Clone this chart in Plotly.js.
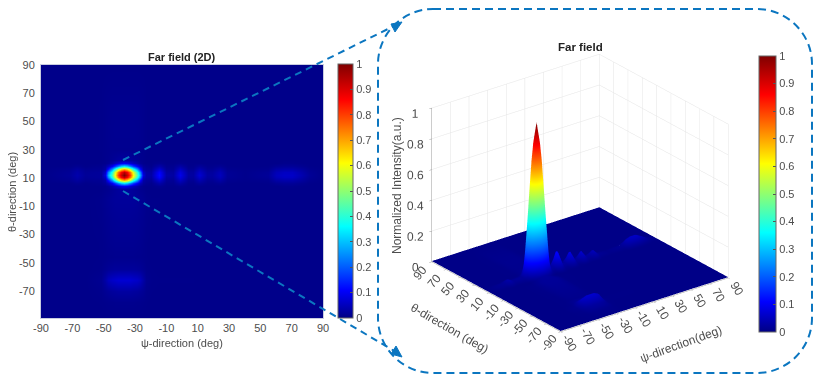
<!DOCTYPE html>
<html>
<head>
<meta charset="utf-8">
<script src="https://cdn.plot.ly/plotly-3.0.1.min.js"></script>
<style>html,body{margin:0;padding:0;background:#fff}#chart{width:818px;height:381px}</style>
</head>
<body>
<div id="chart"></div>
<script>
// Far field intensity (non uniform grid, dense around the main lobe)
const psiDeg = [-90,-72,-67,-62,-52,-49,-47,-45,-43,-41,-39,-37,-35,-33,-31,-29,-27,-25,-23,-20,-15,-10,-6,-1,4,7,11,16,19,24,29,40,55,60,65,70,76,82,90];
const thetaDeg = [-90,-78,-70,-62,-54,-46,-35,-20,-5,2.5,4.5,6.5,8.5,10.5,12.5,14.5,16.5,18.5,20.5,22.5,30,45,60,90];
const intensity = [
  [.005,.005,.005,.005,.005,.005,.005,.005,.005,.005,.005,.005,.005,.005,.005,.005,.005,.005,.005,.005,.005,.005,.005,.005,.005,.005,.005,.005,.005,.005,.005,.005,.005,.005,.005,.005,.005,.005,.005],
  [.005,.005,.005,.005,.006,.007,.008,.008,.009,.009,.009,.009,.009,.009,.009,.008,.008,.007,.006,.005,.005,.005,.005,.005,.005,.005,.005,.005,.005,.005,.005,.005,.005,.005,.005,.005,.005,.005,.005],
  [.005,.005,.005,.005,.008,.014,.018,.022,.024,.026,.026,.026,.026,.026,.024,.022,.018,.014,.008,.006,.005,.005,.005,.005,.005,.005,.005,.005,.005,.005,.005,.005,.005,.005,.005,.005,.005,.005,.005],
  [.005,.005,.005,.005,.012,.03,.05,.06,.065,.07,.07,.07,.07,.07,.065,.06,.05,.03,.012,.007,.006,.006,.006,.006,.006,.006,.005,.005,.005,.005,.005,.005,.005,.005,.005,.005,.005,.005,.005],
  [.005,.005,.005,.005,.007,.012,.016,.018,.02,.02,.02,.02,.02,.02,.02,.018,.016,.012,.007,.006,.005,.005,.005,.005,.005,.005,.005,.005,.005,.005,.005,.005,.005,.005,.005,.005,.005,.005,.005],
  [.005,.005,.005,.005,.006,.007,.008,.008,.009,.009,.009,.009,.009,.009,.009,.008,.008,.007,.006,.005,.005,.005,.005,.005,.005,.005,.005,.005,.005,.005,.005,.005,.005,.005,.005,.005,.005,.005,.005],
  [.005,.005,.005,.005,.006,.008,.01,.011,.012,.012,.012,.012,.012,.012,.012,.011,.01,.008,.006,.005,.005,.005,.005,.005,.005,.005,.005,.005,.005,.005,.005,.005,.005,.005,.005,.005,.005,.005,.005],
  [.005,.005,.005,.005,.007,.01,.012,.014,.015,.016,.016,.016,.016,.016,.015,.014,.012,.01,.007,.006,.005,.005,.005,.005,.005,.005,.005,.005,.005,.005,.005,.005,.005,.005,.005,.005,.005,.005,.005],
  [.005,.005,.005,.005,.008,.012,.015,.018,.02,.02,.02,.02,.02,.02,.02,.018,.015,.012,.008,.006,.006,.005,.005,.005,.005,.005,.005,.005,.005,.005,.005,.005,.005,.005,.005,.005,.005,.005,.005],
  [.005,.005,.005,.005,.005,.008,.01,.014,.018,.022,.024,.025,.024,.022,.018,.014,.01,.008,.005,.005,.005,.005,.005,.005,.005,.005,.005,.005,.005,.005,.005,.005,.005,.005,.005,.005,.005,.005,.005],
  [.005,.005,.005,.005,.006,.008,.015,.03,.05,.07,.09,.10,.09,.07,.05,.03,.015,.008,.006,.006,.012,.006,.006,.01,.006,.006,.006,.005,.005,.005,.005,.005,.005,.005,.008,.008,.006,.005,.005],
  [.005,.006,.012,.006,.01,.02,.05,.10,.17,.24,.31,.34,.31,.24,.17,.10,.05,.02,.012,.008,.035,.01,.01,.03,.008,.008,.02,.008,.008,.014,.006,.005,.006,.014,.018,.018,.012,.006,.005],
  [.005,.012,.024,.012,.014,.03,.12,.26,.40,.54,.64,.70,.64,.54,.40,.26,.12,.03,.018,.016,.07,.016,.014,.055,.014,.014,.04,.014,.014,.03,.01,.007,.01,.03,.035,.035,.024,.01,.005],
  [.005,.016,.032,.016,.02,.06,.24,.40,.58,.75,.87,.94,.87,.75,.58,.40,.24,.06,.03,.025,.11,.025,.022,.08,.022,.022,.06,.022,.022,.045,.015,.008,.016,.045,.055,.055,.035,.014,.005],
  [.005,.018,.036,.018,.02,.08,.28,.44,.62,.80,.92,1,.92,.80,.62,.44,.28,.08,.03,.03,.12,.03,.026,.09,.025,.025,.07,.025,.025,.05,.016,.008,.018,.05,.06,.06,.04,.016,.005],
  [.005,.016,.032,.016,.02,.06,.24,.40,.58,.75,.87,.94,.87,.75,.58,.40,.24,.06,.03,.025,.11,.025,.022,.08,.022,.022,.06,.022,.022,.045,.015,.008,.016,.045,.055,.055,.035,.014,.005],
  [.005,.012,.024,.012,.014,.03,.12,.26,.40,.54,.64,.70,.64,.54,.40,.26,.12,.03,.018,.016,.07,.016,.014,.055,.014,.014,.04,.014,.014,.03,.01,.007,.01,.03,.035,.035,.024,.01,.005],
  [.005,.006,.012,.006,.01,.02,.05,.10,.17,.24,.31,.34,.31,.24,.17,.10,.05,.02,.012,.008,.035,.01,.01,.03,.008,.008,.02,.008,.008,.014,.006,.005,.006,.014,.018,.018,.012,.006,.005],
  [.005,.005,.005,.005,.006,.008,.015,.03,.05,.07,.09,.10,.09,.07,.05,.03,.015,.008,.006,.006,.012,.006,.006,.01,.006,.006,.006,.005,.005,.005,.005,.005,.005,.005,.008,.008,.006,.005,.005],
  [.005,.005,.005,.005,.005,.008,.01,.014,.018,.022,.024,.025,.024,.022,.018,.014,.01,.008,.005,.005,.005,.005,.005,.005,.005,.005,.005,.005,.005,.005,.005,.005,.005,.005,.005,.005,.005,.005,.005],
  [.005,.005,.005,.005,.006,.008,.009,.01,.01,.01,.01,.01,.01,.01,.01,.01,.009,.008,.006,.005,.005,.005,.005,.005,.005,.005,.005,.005,.005,.005,.005,.005,.005,.005,.005,.005,.005,.005,.005],
  [.005,.005,.005,.005,.006,.008,.01,.011,.012,.012,.012,.012,.012,.012,.012,.011,.01,.008,.006,.005,.005,.005,.005,.005,.005,.005,.005,.005,.005,.005,.005,.005,.005,.005,.005,.005,.005,.005,.005],
  [.005,.005,.005,.005,.006,.008,.009,.01,.01,.01,.01,.01,.01,.01,.01,.01,.009,.008,.006,.005,.005,.005,.005,.005,.005,.005,.005,.005,.005,.005,.005,.005,.005,.005,.005,.005,.005,.005,.005],
  [.005,.005,.005,.005,.005,.005,.005,.005,.005,.005,.005,.005,.005,.005,.005,.005,.005,.005,.005,.005,.005,.005,.005,.005,.005,.005,.005,.005,.005,.005,.005,.005,.005,.005,.005,.005,.005,.005,.005]
];
const angleTicks = [-90,-70,-50,-30,-10,10,30,50,70,90];
const zTicks = [0,0.2,0.4,0.6,0.8,1];
const barTicks = [0,0.1,0.2,0.3,0.4,0.5,0.6,0.7,0.8,0.9,1];

const W = 818, H = 381;
const fx = x => x / W;
const fy = y => 1 - y / H;

// MATLAB jet
const jet = [
  [0, '#000084'], [0.11, '#0000ff'], [0.36, '#00ffff'],
  [0.61, '#ffff00'], [0.86, '#ff0000'], [1, '#800000']
];
const textCol = '#4d4d4d';
const calloutCol = '#0b76c0';
const baseFont = { family: '"Liberation Sans", Arial, sans-serif', size: 11, color: textCol };

function barOpts(x, top, bottom, width) {
  return {
    x: fx(x), xanchor: 'left', xpad: 0,
    y: fy(bottom), yanchor: 'bottom', ypad: 0,
    len: (bottom - top) / H, lenmode: 'fraction',
    thickness: width, thicknessmode: 'pixels',
    tickmode: 'array', tickvals: barTicks, ticktext: barTicks.map(String),
    ticks: 'inside', ticklen: 3, tickcolor: '#555',
    outlinecolor: '#666', outlinewidth: 1,
    tickfont: { family: baseFont.family, size: 11, color: textCol }
  };
}

const heat = {
  type: 'heatmap', x: psiDeg, y: thetaDeg, z: intensity,
  colorscale: jet, zmin: 0, zmax: 1, zsmooth: 'best', hoverinfo: 'skip',
  colorbar: barOpts(338, 64, 318, 15)
};

const surf = {
  type: 'surface', x: psiDeg, y: thetaDeg, z: intensity,
  colorscale: jet, cmin: 0, cmax: 1, hoverinfo: 'skip',
  lighting: { ambient: 1, diffuse: 0, specular: 0, roughness: 1, fresnel: 0 },
  contours: { x: { highlight: false }, y: { highlight: false }, z: { highlight: false } },
  colorbar: barOpts(759, 56, 332, 17)
};

function sceneAxis(range, vals, showLabels) {
  return {
    range: range, tickmode: 'array', tickvals: vals, ticktext: vals.map(String), tickangle: 0,
    showticklabels: showLabels, tickfont: { family: baseFont.family, size: 12, color: textCol },
    title: { text: '' }, gridcolor: '#e4e4e4', gridwidth: 1,
    showbackground: false, showspikes: false, zeroline: false,
    showline: true, linecolor: '#999', linewidth: 1, ticks: 'outside', ticklen: 3, tickcolor: '#999'
  };
}

// native 3D tick labels cannot be slanted, so they go in as scene annotations
function sceneTick(x, y, text, angle, dx, dy) {
  return {
    x: x, y: y, z: 0, text: text, textangle: angle, showarrow: false,
    xshift: dx, yshift: dy, font: { family: baseFont.family, size: 12, color: textCol }
  };
}
const psiTickLabels = angleTicks.map(v => sceneTick(v, -90, String(v), 60, 9, -11));
const thetaTickLabels = angleTicks.map(v => sceneTick(-90, v, String(v), -50, -12, -11));

function label(text, x, y, angle, bold, size) {
  return {
    xref: 'paper', yref: 'paper', x: fx(x), y: fy(y), xanchor: 'center', yanchor: 'middle',
    text: bold ? '<b>' + text + '</b>' : text, textangle: angle || 0, showarrow: false,
    font: { family: baseFont.family, size: size || 12, color: bold ? '#222' : textCol }
  };
}

function seg(x0, y0, x1, y1) {
  return {
    type: 'line', xref: 'paper', yref: 'paper',
    x0: fx(x0), y0: fy(y0), x1: fx(x1), y1: fy(y1),
    line: { color: calloutCol, width: 2, dash: '7px,5px' }
  };
}

function head(pts) {
  const d = 'M' + pts.map(p => fx(p[0]) + ',' + fy(p[1])).join(' L') + ' Z';
  return { type: 'path', xref: 'paper', yref: 'paper', path: d, fillcolor: calloutCol, line: { color: calloutCol, width: 1 } };
}

// rounded dashed frame around the 3D view
function frame(l, t, r, b, c) {
  const k = c * 0.45;
  const P = (x, y) => fx(x) + ',' + fy(y);
  const d = 'M' + P(l + c, t) + ' L' + P(r - c, t) +
    ' C' + P(r - k, t) + ' ' + P(r, t + k) + ' ' + P(r, t + c) +
    ' L' + P(r, b - c) +
    ' C' + P(r, b - k) + ' ' + P(r - k, b) + ' ' + P(r - c, b) +
    ' L' + P(l + c, b) +
    ' C' + P(l + k, b) + ' ' + P(l, b - k) + ' ' + P(l, b - c) +
    ' L' + P(l, t + c) +
    ' C' + P(l, t + k) + ' ' + P(l + k, t) + ' ' + P(l + c, t) + ' Z';
  return { type: 'path', xref: 'paper', yref: 'paper', path: d, line: { color: calloutCol, width: 2, dash: '8px,5px' } };
}

const eyeR = 1.6;
const layout = {
  width: W, height: H, margin: { l: 0, r: 0, t: 0, b: 0 },
  paper_bgcolor: 'rgba(0,0,0,0)', plot_bgcolor: '#fff', font: baseFont, showlegend: false,
  xaxis: {
    domain: [fx(41), fx(323)], range: [-90, 90], tickmode: 'array', tickvals: angleTicks, ticktext: angleTicks.map(String),
    ticks: '', showgrid: false, zeroline: false, showline: true, linecolor: '#c8cce0', mirror: true,
    tickfont: { family: baseFont.family, size: 11, color: textCol }
  },
  yaxis: {
    domain: [fy(318), fy(65)], range: [-89, 90], tickmode: 'array', tickvals: angleTicks.slice(1), ticktext: angleTicks.slice(1).map(String),
    ticks: '', showgrid: false, zeroline: false, showline: true, linecolor: '#c8cce0', mirror: true, ticklabelstandoff: 3,
    tickfont: { family: baseFont.family, size: 11, color: textCol }
  },
  scene: {
    domain: { x: [fx(400), fx(760)], y: [fy(366), fy(20)] },
    xaxis: sceneAxis([-90, 90], angleTicks, false),
    yaxis: sceneAxis([-90, 90], angleTicks, false),
    zaxis: sceneAxis([0, 1], zTicks, true),
    aspectmode: 'manual', aspectratio: { x: 1.222, y: 1.222, z: 0.978 },
    annotations: psiTickLabels.concat(thetaTickLabels),
    camera: {
      projection: { type: 'orthographic' },
      up: { x: 0, y: 0, z: 1 }, center: { x: 0, y: 0, z: 0 },
      eye: { x: -0.554 * eyeR, y: -0.72 * eyeR, z: 0.4176 * eyeR }
    }
  },
  annotations: [
    label('Far field (2D)', 182, 57, 0, true, 11),
    label('ψ-direction (deg)', 182, 343, 0, false, 11),
    label('θ-direction (deg)', 12, 192, -90, false, 11),
    label('Far field', 580, 47, 0, true, 11.5),
    label('Normalized Intensity(a.u.)', 397, 186, -90, false, 12),
    label('θ-direction (deg)', 449, 328, 30, false, 12),
    label('ψ-direction(deg)', 681, 344, -20, false, 12)
  ],
  shapes: [
    frame(378, 9, 812, 373, 55),
    seg(123, 160, 396, 25),
    seg(123, 191, 396, 352),
    head([[402, 22], [391, 24], [395, 32]]),
    head([[402, 357], [391, 354], [396, 346]])
  ]
};

Plotly.newPlot('chart', [heat, surf], layout, { displayModeBar: false });
</script>
</body>
</html>
